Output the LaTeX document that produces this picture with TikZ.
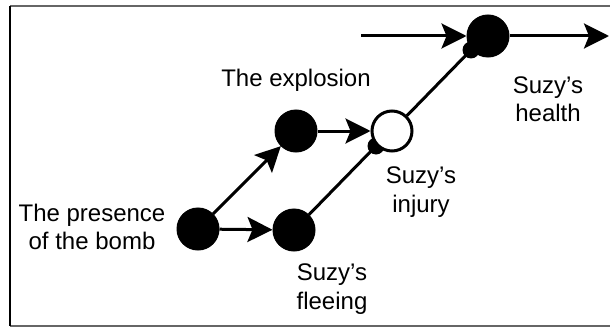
\documentclass[tikz,border=0pt]{standalone}
\usepackage{fontspec}
\setmainfont{Liberation Sans}
\usetikzlibrary{arrows.meta}
\begin{document}
\begin{tikzpicture}[x=1pt,y=-1pt,
  var/.style={circle,fill=black,draw=black,line width=1pt,minimum size=42pt,inner sep=0pt},
  openvar/.style={circle,fill=white,draw=black,line width=3pt,minimum size=40pt,inner sep=0pt},
  dot/.style={circle,fill=black,minimum size=17pt,inner sep=0pt},
  lbl/.style={font=\fontsize{24}{28.5}\selectfont,align=center,inner sep=0pt},
  edge/.style={line width=3pt},
  arr/.style={edge,-{Stealth[length=25pt,width=25pt,inset=5pt]}}]
\useasboundingbox (0,0) rectangle (610,329);
\draw[line width=1.5pt,black!60] (610,6) -- (10,6);
\draw[line width=1.5pt,black!60] (10,326) -- (610,326);
\draw[line width=1.5pt,black] (10,6) -- (10,326);
% nodes
\node[var] (bomb) at (198,229) {};
\node[var] (expl) at (296,131) {};
\node[var] (flee) at (294,230) {};
\node[dot] (injdot) at (376,146) {};
\node[openvar] (inj) at (392,131) {};
\node[dot] (headot) at (471,50) {};
\node[var] (health) at (488,36) {};
\coordinate (in) at (361,36);
\coordinate (out) at (609,36);
% labels
\node[lbl] (lbomb) at (92,227) {The presence\\of the bomb};
\node[lbl] (lexpl) at (296,80) {The explosion};
\node[lbl] (linj) at (421,192) {Suzy’s\\injury};
\node[lbl] (lhea) at (548,99) {Suzy’s\\health};
\node[lbl] (lflee) at (332,289) {Suzy’s\\fleeing};
% connectors
\draw[arr] (bomb) -- (expl);
\draw[arr] (bomb) -- (flee);
\draw[arr] (expl) -- (inj);
\draw[edge] (flee) -- (injdot.center);
\draw[edge] (inj) -- (headot.center);
\draw[arr] (in) -- (health.west);
\draw[arr] (health.east) -- (out);
\end{tikzpicture}
\end{document}
